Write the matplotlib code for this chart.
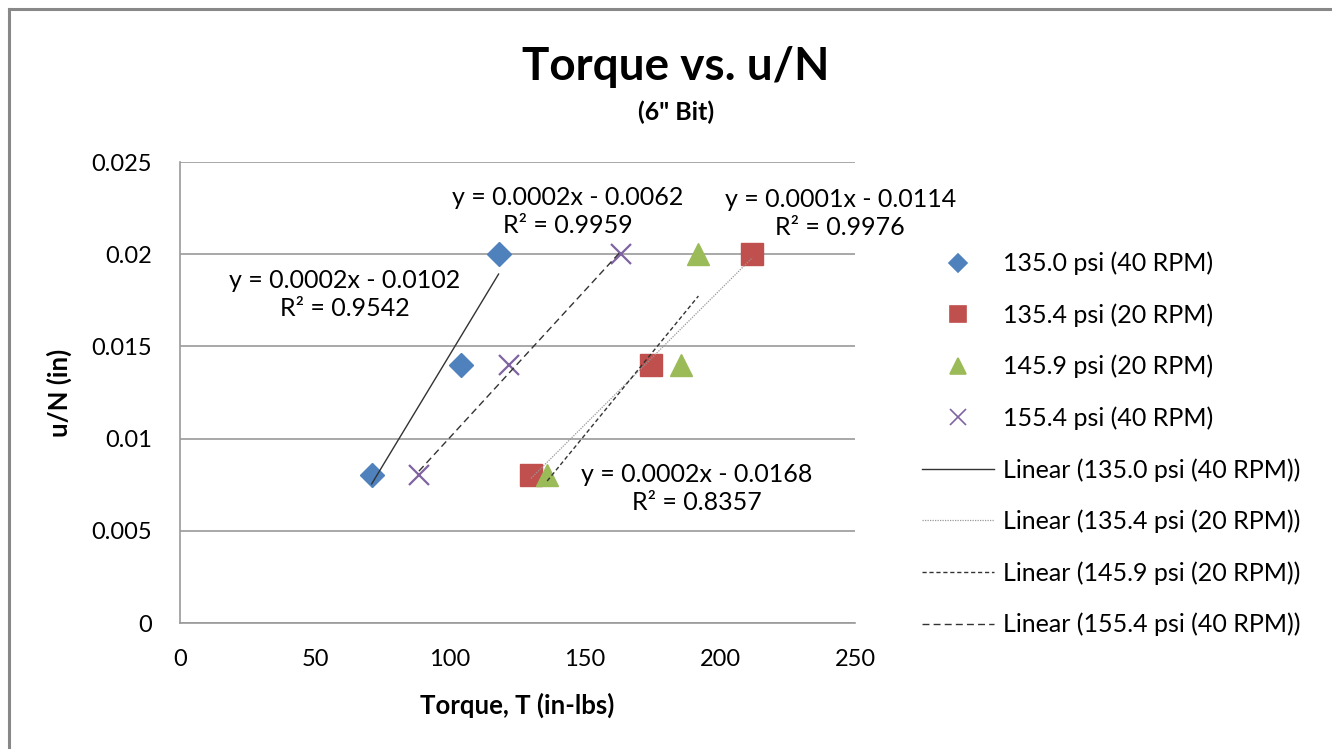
import numpy as np
import matplotlib.pyplot as plt
from matplotlib.lines import Line2D

plt.rcParams['font.family'] = ['Lato', 'DejaVu Sans']

# torque (in-lbs) and u/N (in) for each run
labels = ['135.0 psi (40 RPM)', '135.4 psi (20 RPM)', '145.9 psi (20 RPM)', '155.4 psi (40 RPM)']
torque_135_0 = [71, 104, 118]
torque_135_4 = [130, 174.5, 212]
torque_145_9 = [136, 185.5, 192]
torque_155_4 = [88.5, 122, 163.5]
uN = [0.008, 0.014, 0.02]

# trendline equation labels (text, x, y)
eq_labels = [
    ('y = 0.0002x - 0.0102\nR² = 0.9542', 61, 0.0178),
    ('y = 0.0002x - 0.0062\nR² = 0.9959', 143.5, 0.0223),
    ('y = 0.0001x - 0.0114\nR² = 0.9976', 244.5, 0.0222),
    ('y = 0.0002x - 0.0168\nR² = 0.8357', 191.5, 0.0073),
]

series = [torque_135_0, torque_135_4, torque_145_9, torque_155_4]
colors = ['#4F81BD', '#C0504D', '#9BBB59', '#8064A2']
markers = ['D', 's', '^', 'x']
msizes = [12, 15.5, 16, 15]
fit_styles = [dict(ls='-', color='#333333', lw=1.0),
              dict(ls=(0, (1, 1)), color='#999999', lw=0.9),
              dict(ls=(0, (3, 2)), color='#333333', lw=1.0),
              dict(ls=(0, (5, 3)), color='#333333', lw=1.0)]

fig = plt.figure(figsize=(13.32, 7.49), dpi=100)
ax = fig.add_axes([0.1351, 0.1682, 0.5068, 0.6155])

# outer chart border (top and left edges visible)
fig.add_artist(Line2D([0.0068, 1.0], [0.988, 0.988], color='#888888', lw=2.2, transform=fig.transFigure))
fig.add_artist(Line2D([0.0068, 0.0068], [0.0, 0.988], color='#888888', lw=2.2, transform=fig.transFigure))

pt_handles = []
for xs, c, m, ms in zip(series, colors, markers, msizes):
    if m == 'x':
        h, = ax.plot(xs, uN, ls='none', marker=m, ms=ms, mec=c, mew=1.6, zorder=3)
    else:
        h, = ax.plot(xs, uN, ls='none', marker=m, ms=ms, mfc=c, mec=c, zorder=3)
    pt_handles.append(h)

fit_handles = []
for xs, st in zip(series, fit_styles):
    k, b = np.polyfit(xs, uN, 1)
    xx = np.array([min(xs), max(xs)])
    h, = ax.plot(xx, k * xx + b, zorder=4, **st)
    fit_handles.append(h)

for txt, x, y in eq_labels:
    ax.text(x, y, txt, ha='center', va='center', fontsize=18, linespacing=1.25,
            multialignment='center', clip_on=False, zorder=5)

ax.set_xlim(0, 250)
ax.set_ylim(0, 0.025)
ax.set_xticks(np.arange(0, 251, 50))
ax.set_yticks(np.arange(0, 0.0251, 0.005))
ax.set_yticklabels(['0', '0.005', '0.01', '0.015', '0.02', '0.025'])
ax.tick_params(length=0, labelsize=17)
ax.tick_params(axis='x', pad=19)
ax.tick_params(axis='y', pad=20)
ax.yaxis.grid(True, color='#9A9A9A', lw=1.2)
ax.set_axisbelow(True)
for s in ['top', 'right']:
    ax.spines[s].set_visible(False)
for s in ['left', 'bottom']:
    ax.spines[s].set_color('#9A9A9A')
    ax.spines[s].set_linewidth(1.2)

ax.set_xlabel('Torque, T (in-lbs)', fontsize=18.5, fontweight='bold')
ax.set_ylabel('u/N (in)', fontsize=18.5, fontweight='bold')
ax.xaxis.set_label_coords(0.5, -0.15)
ax.yaxis.set_label_coords(-0.16, 0.5)

fig.text(0.5075, 0.9105, 'Torque vs. u/N', ha='center', va='center', fontsize=33, fontweight='bold')
fig.text(0.5075, 0.85, '(6" Bit)', ha='center', va='center', fontsize=18, fontweight='bold')

leg_handles = [Line2D([], [], ls='none', marker=h.get_marker(), ms=11 if h.get_marker() != 'D' else 9,
                      mfc=h.get_markerfacecolor(), mec=h.get_markeredgecolor(), mew=1.2)
               for h in pt_handles] + fit_handles
leg_labels = labels + ['Linear (%s)' % l for l in labels]
fig.legend(leg_handles, leg_labels, loc='upper left', bbox_to_anchor=(0.692, 0.664),
           frameon=False, fontsize=18, labelspacing=1.12, handlelength=2.9,
           handletextpad=0.35, borderpad=0, borderaxespad=0)

fig.savefig('out.png', dpi=100)
